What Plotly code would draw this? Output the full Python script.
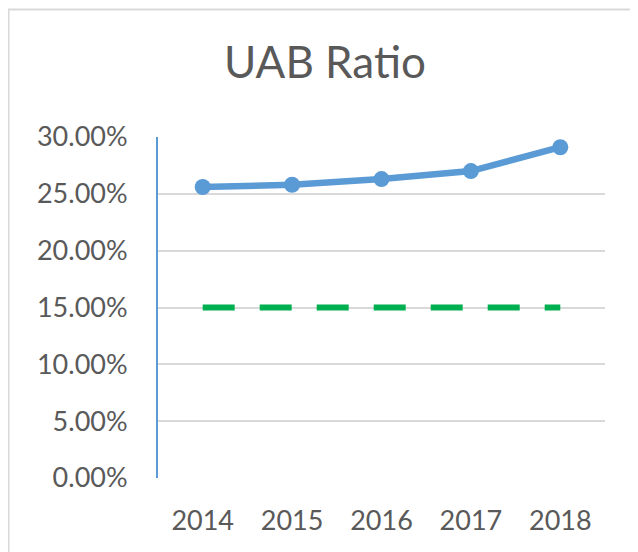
import plotly.graph_objects as go

years = ["2014", "2015", "2016", "2017", "2018"]
uab_ratio = [0.256, 0.258, 0.263, 0.270, 0.291]
target = [0.15, 0.15, 0.15, 0.15, 0.15]
y_ticks = [0, 0.05, 0.10, 0.15, 0.20, 0.25, 0.30]

# page body has an 8px margin, so the figure is sized to fit inside the window
W, H = 630, 544
L, R, T, B = 150, 33, 129, 74
pw, ph = W - L - R, H - T - B

fig = go.Figure()
fig.add_trace(go.Scatter(
    x=years, y=target, mode="lines",
    line=dict(color="#00B050", width=6, dash="32px,25px"),
    hoverinfo="skip", showlegend=False))
fig.add_trace(go.Scatter(
    x=years, y=uab_ratio, mode="lines+markers",
    line=dict(color="#5B9BD5", width=6.5),
    marker=dict(color="#5B9BD5", size=16),
    showlegend=False))

def px_to_paper_x(px):
    return (px - L) / pw

def px_to_paper_y(py):
    return (H - B - py) / ph

fig.add_shape(type="line", xref="paper", yref="paper",
              x0=px_to_paper_x(0), x1=px_to_paper_x(W), y0=px_to_paper_y(1.5), y1=px_to_paper_y(1.5),
              line=dict(color="#D9D9D9", width=2))
fig.add_shape(type="line", xref="paper", yref="paper",
              x0=px_to_paper_x(0.5), x1=px_to_paper_x(0.5), y0=px_to_paper_y(1.5), y1=px_to_paper_y(H),
              line=dict(color="#D9D9D9", width=2))

fig.update_layout(
    width=W, height=H,
    margin=dict(l=L, r=R, t=T, b=B),
    paper_bgcolor="white", plot_bgcolor="white",
    font=dict(family="Lato, Open Sans, sans-serif", color="#595959"),
    title=dict(text="UAB Ratio", x=317 / W, xanchor="center", y=1 - 55 / H, yanchor="middle",
               font=dict(size=44, color="#595959")),
    xaxis=dict(type="category", showgrid=False, showline=False, zeroline=False,
               tickfont=dict(size=27, color="#595959"), ticks="", ticklabelstandoff=24,
               range=[-0.5, 4.5]),
    yaxis=dict(range=[0, 0.30], tickvals=y_ticks, tickformat=".2%",
               showgrid=True, gridcolor="#D9D9D9", gridwidth=1.5,
               showline=True, linecolor="#5B9BD5", linewidth=2, zeroline=False,
               tickfont=dict(size=27, color="#595959"), ticks="", ticklabelstandoff=23),
)

fig.write_html("out.html")
